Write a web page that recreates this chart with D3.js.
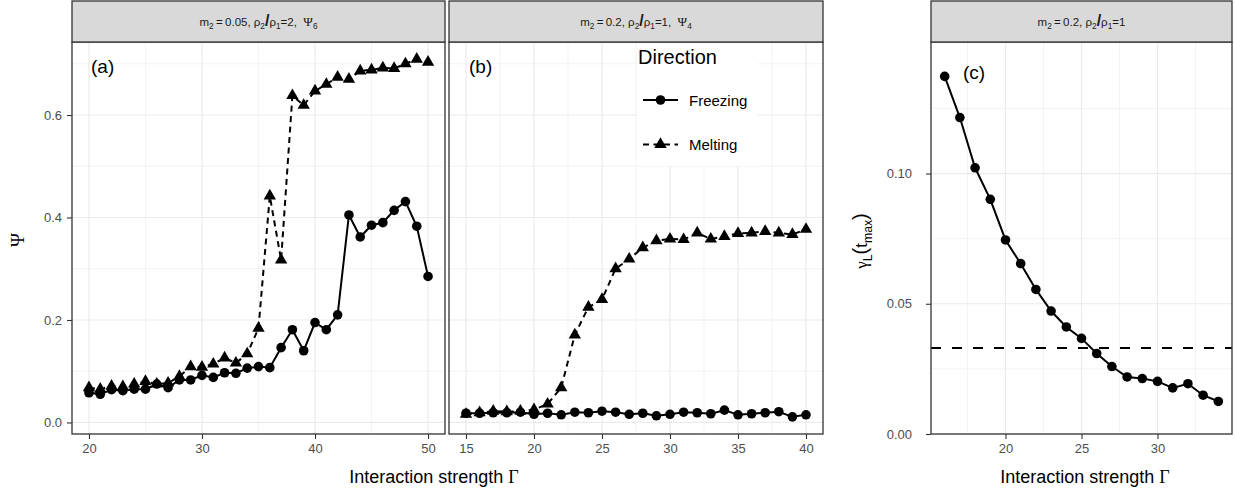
<!DOCTYPE html>
<html>
<head>
<meta charset="utf-8">
<script src="https://cdn.jsdelivr.net/npm/d3@7"></script>
<style>
  body { margin: 0; background: #ffffff; }
  svg { display: block; }
</style>
</head>
<body>
<svg id="chart" width="1235" height="495"></svg>
<script>
// ---- data -------------------------------------------------------------
// (a) m2 = 0.05, rho2/rho1 = 2, order parameter Psi_6
const gammaA = [20,21,22,23,24,25,26,27,28,29,30,31,32,33,34,35,36,37,38,39,40,41,42,43,44,45,46,47,48,49,50];
const freezingA = [0.058,0.055,0.064,0.062,0.065,0.065,0.075,0.068,0.083,0.083,0.092,0.088,0.097,0.096,0.106,0.109,0.107,0.146,0.181,0.140,0.195,0.181,0.210,0.405,0.362,0.385,0.390,0.414,0.431,0.383,0.285];
const meltingA  = [0.068,0.065,0.071,0.070,0.075,0.080,0.075,0.077,0.090,0.109,0.108,0.114,0.126,0.116,0.134,0.184,0.442,0.317,0.638,0.619,0.647,0.660,0.674,0.670,0.686,0.688,0.692,0.691,0.700,0.709,0.703];

// (b) m2 = 0.2, rho2/rho1 = 1, order parameter Psi_4
const gammaB = [15,16,17,18,19,20,21,22,23,24,25,26,27,28,29,30,31,32,33,34,35,36,37,38,39,40];
const freezingB = [0.018,0.018,0.019,0.019,0.020,0.016,0.018,0.015,0.020,0.019,0.022,0.020,0.016,0.018,0.013,0.016,0.020,0.019,0.017,0.024,0.015,0.017,0.019,0.021,0.011,0.015];
const meltingB  = [0.016,0.019,0.022,0.021,0.022,0.025,0.036,0.068,0.171,0.225,0.240,0.300,0.319,0.341,0.355,0.358,0.357,0.370,0.358,0.363,0.369,0.370,0.373,0.370,0.367,0.377];

// (c) m2 = 0.2, rho2/rho1 = 1, Lindemann parameter at t_max
const gammaC = [16,17,18,19,20,21,22,23,24,25,26,27,28,29,30,31,32,33,34];
const lindemannC = [0.1373,0.1215,0.1022,0.0901,0.0745,0.0654,0.0555,0.0472,0.0411,0.0367,0.0309,0.0259,0.0219,0.0213,0.0202,0.0177,0.0193,0.0149,0.0125];
const lindemannThreshold = 0.033;

// axis breaks
const ticksXA = [20, 30, 40, 50];
const ticksXB = [15, 20, 25, 30, 35, 40];
const ticksXC = [20, 25, 30];
const ticksYAB = [0.0, 0.2, 0.4, 0.6];
const ticksYC = [0.00, 0.05, 0.10];
const tickLabelsYAB = ["0.0", "0.2", "0.4", "0.6"];
const tickLabelsYC = ["0.00", "0.05", "0.10"];

const seriesNames = ["Freezing", "Melting"];

// ---- layout & style ---------------------------------------------------
const svg = d3.select("#chart");
const SANS = "'Liberation Sans', Arial, Helvetica, sans-serif";
const SERIF = "'Liberation Serif', 'Times New Roman', serif";
const FRAME = "#333333";
const GRID = "#EBEBEB";
const TICKTXT = "#4D4D4D";
const panelTop = 42, panelBottom = 434, stripTop = 1;
const meltDash = "6,4.5";

svg.append("rect").attr("width", 1235).attr("height", 495).attr("fill", "#ffffff");

// midpoints between consecutive major breaks (plus one step beyond each end)
function minorBreaks(major) {
  const step = major[1] - major[0];
  const out = [major[0] - step / 2];
  for (let i = 0; i < major.length; i++) out.push(major[i] + step / 2);
  return out;
}

// write a label made of runs, some of them subscripts / other fonts
function richText(sel, parts, baseSize) {
  let shift = 0;
  parts.forEach(p => {
    const ts = sel.append("tspan").text(p.t);
    const target = p.sub ? baseSize * 0.3 : 0;
    if (target !== shift) { ts.attr("dy", target - shift); shift = target; }
    ts.attr("font-size", p.size || (p.sub ? baseSize * 0.72 : baseSize));
    if (p.font) ts.attr("font-family", p.font);
    if (p.weight) ts.attr("font-weight", p.weight);
  });
  return sel;
}

function drawPanel(cfg) {
  const g = svg.append("g");
  const x = d3.scaleLinear().domain(cfg.xDomain).range([cfg.left, cfg.right]);
  const y = d3.scaleLinear().domain(cfg.yDomain).range([panelBottom, panelTop]);

  g.append("rect").attr("x", cfg.left).attr("y", panelTop)
    .attr("width", cfg.right - cfg.left).attr("height", panelBottom - panelTop)
    .attr("fill", "#ffffff");

  const inX = v => v > cfg.xDomain[0] && v < cfg.xDomain[1];
  const inY = v => v > cfg.yDomain[0] && v < cfg.yDomain[1];

  // minor grid
  g.selectAll(null).data(minorBreaks(cfg.xTicks).filter(inX)).join("line")
    .attr("x1", d => x(d)).attr("x2", d => x(d))
    .attr("y1", panelTop).attr("y2", panelBottom)
    .attr("stroke", GRID).attr("stroke-width", 0.6);
  g.selectAll(null).data(minorBreaks(cfg.yTicks).filter(inY)).join("line")
    .attr("y1", d => y(d)).attr("y2", d => y(d))
    .attr("x1", cfg.left).attr("x2", cfg.right)
    .attr("stroke", GRID).attr("stroke-width", 0.6);
  // major grid
  g.selectAll(null).data(cfg.xTicks).join("line")
    .attr("x1", d => x(d)).attr("x2", d => x(d))
    .attr("y1", panelTop).attr("y2", panelBottom)
    .attr("stroke", GRID).attr("stroke-width", 1.2);
  g.selectAll(null).data(cfg.yTicks).join("line")
    .attr("y1", d => y(d)).attr("y2", d => y(d))
    .attr("x1", cfg.left).attr("x2", cfg.right)
    .attr("stroke", GRID).attr("stroke-width", 1.2);

  // bottom axis
  const xAxis = d3.axisBottom(x).tickValues(cfg.xTicks).tickSize(5).tickPadding(5)
    .tickFormat(d3.format("d"));
  const xa = g.append("g").attr("transform", `translate(0,${panelBottom})`).call(xAxis);
  xa.select(".domain").remove();
  xa.selectAll(".tick line").attr("stroke", FRAME).attr("stroke-width", 1.1);
  xa.selectAll(".tick text").attr("fill", TICKTXT).attr("font-family", SANS).attr("font-size", 13);

  // left axis
  if (cfg.yLabels) {
    const yAxis = d3.axisLeft(y).tickValues(cfg.yTicks).tickSize(5)
      .tickPadding(cfg.yPad).tickFormat((d, i) => cfg.yLabels[i]);
    const ya = g.append("g").attr("transform", `translate(${cfg.left},0)`).call(yAxis);
    ya.select(".domain").remove();
    ya.selectAll(".tick line").attr("stroke", FRAME).attr("stroke-width", 1.1);
    ya.selectAll(".tick text").attr("fill", TICKTXT).attr("font-family", SANS).attr("font-size", 13);
  }

  const clipId = "clip" + cfg.key;
  svg.append("clipPath").attr("id", clipId).append("rect")
    .attr("x", cfg.left).attr("y", panelTop)
    .attr("width", cfg.right - cfg.left).attr("height", panelBottom - panelTop);
  const data = g.append("g").attr("clip-path", `url(#${clipId})`);

  return { g, x, y, data };
}

function drawSeries(p, xs, ys, kind) {
  const pts = xs.map((v, i) => [v, ys[i]]);
  const line = d3.line().x(d => p.x(d[0])).y(d => p.y(d[1]));
  p.data.append("path").attr("d", line(pts)).attr("fill", "none")
    .attr("stroke", "#000").attr("stroke-width", 2)
    .attr("stroke-dasharray", kind === "Melting" ? meltDash : null);
  if (kind === "Melting") {
    p.data.selectAll(null).data(pts).join("path")
      .attr("d", d3.symbol(d3.symbolTriangle, 66)())
      .attr("transform", d => `translate(${p.x(d[0])},${p.y(d[1])})`)
      .attr("fill", "#000");
  } else {
    p.data.selectAll(null).data(pts).join("circle")
      .attr("cx", d => p.x(d[0])).attr("cy", d => p.y(d[1])).attr("r", 4.8)
      .attr("fill", "#000");
  }
}

function drawFrame(cfg) {
  svg.append("rect").attr("x", cfg.left).attr("y", panelTop)
    .attr("width", cfg.right - cfg.left).attr("height", panelBottom - panelTop)
    .attr("fill", "none").attr("stroke", FRAME).attr("stroke-width", 1.3);
  svg.append("rect").attr("x", cfg.left).attr("y", stripTop)
    .attr("width", cfg.right - cfg.left).attr("height", panelTop - stripTop)
    .attr("fill", "#D9D9D9").attr("stroke", FRAME).attr("stroke-width", 1.3);
  const t = svg.append("text").attr("x", (cfg.left + cfg.right) / 2).attr("y", 26)
    .attr("text-anchor", "middle").attr("font-family", SANS).attr("fill", "#1A1A1A");
  richText(t, cfg.strip, 11.5);
}

function panelTag(x, y, label) {
  svg.append("text").attr("x", x).attr("y", y).attr("font-family", SANS)
    .attr("font-size", 19).attr("fill", "#000").text(label);
}

// ---- panel (a) ----------------------------------------------------------
const cfgA = {
  key: "A", left: 72, right: 445, xDomain: [18.5, 51.5], yDomain: [-0.0225, 0.7425],
  xTicks: ticksXA, yTicks: ticksYAB, yLabels: tickLabelsYAB, yPad: 5,
  strip: [
    { t: "m" }, { t: "2", sub: true }, { t: "\u2009=\u20090.05, \u03C1" }, { t: "2", sub: true },
    { t: "/", size: 16, weight: "bold" }, { t: "\u03C1" }, { t: "1", sub: true },
    { t: "=2,\u00A0\u00A0" }, { t: "\u03A8", font: SERIF, size: 13 }, { t: "6", sub: true }
  ]
};
const pA = drawPanel(cfgA);
drawSeries(pA, gammaA, freezingA, "Freezing");
drawSeries(pA, gammaA, meltingA, "Melting");

// ---- panel (b) ----------------------------------------------------------
const cfgB = {
  key: "B", left: 449, right: 823, xDomain: [13.75, 41.25], yDomain: [-0.0225, 0.7425],
  xTicks: ticksXB, yTicks: ticksYAB, yLabels: null,
  strip: [
    { t: "m" }, { t: "2", sub: true }, { t: "\u2009=\u20090.2, \u03C1" }, { t: "2", sub: true },
    { t: "/", size: 16, weight: "bold" }, { t: "\u03C1" }, { t: "1", sub: true },
    { t: "=1,\u00A0\u00A0" }, { t: "\u03A8", font: SERIF, size: 13 }, { t: "4", sub: true }
  ]
};
const pB = drawPanel(cfgB);
drawSeries(pB, gammaB, freezingB, "Freezing");
drawSeries(pB, gammaB, meltingB, "Melting");

// ---- panel (c) ----------------------------------------------------------
const cfgC = {
  key: "C", left: 931, right: 1232, xDomain: [15.1, 34.9], yDomain: [0, 0.1505],
  xTicks: ticksXC, yTicks: ticksYC, yLabels: tickLabelsYC, yPad: 14,
  strip: [
    { t: "m" }, { t: "2", sub: true }, { t: "\u2009=\u20090.2, \u03C1" }, { t: "2", sub: true },
    { t: "/", size: 16, weight: "bold" }, { t: "\u03C1" }, { t: "1", sub: true }, { t: "=1" }
  ]
};
const pC = drawPanel(cfgC);
pC.data.append("line")
  .attr("x1", cfgC.left).attr("x2", cfgC.right)
  .attr("y1", pC.y(lindemannThreshold)).attr("y2", pC.y(lindemannThreshold))
  .attr("stroke", "#000").attr("stroke-width", 2).attr("stroke-dasharray", "10,11");
drawSeries(pC, gammaC, lindemannC, "Freezing");

// ---- legend inside panel (b) -------------------------------------------
const leg = svg.append("g");
leg.append("rect").attr("x", 637).attr("y", 43).attr("width", 121).attr("height", 123).attr("fill", "#ffffff");
leg.append("text").attr("x", 638).attr("y", 64).attr("font-family", SANS).attr("font-size", 20)
  .attr("fill", "#000").text("Direction");
seriesNames.forEach((name, i) => {
  const cy = 100 + i * 44.5;
  leg.append("line").attr("x1", 643).attr("x2", 678).attr("y1", cy).attr("y2", cy)
    .attr("stroke", "#000").attr("stroke-width", 2)
    .attr("stroke-dasharray", name === "Melting" ? meltDash : null);
  if (name === "Melting") {
    leg.append("path").attr("d", d3.symbol(d3.symbolTriangle, 66)())
      .attr("transform", `translate(660.5,${cy})`).attr("fill", "#000");
  } else {
    leg.append("circle").attr("cx", 660.5).attr("cy", cy).attr("r", 4.8).attr("fill", "#000");
  }
  leg.append("text").attr("x", 689).attr("y", cy + 5.5).attr("font-family", SANS)
    .attr("font-size", 15).attr("fill", "#000").text(name);
});

// ---- frames, strips and panel tags -------------------------------------
[cfgA, cfgB, cfgC].forEach(drawFrame);
panelTag(91, 73, "(a)");
panelTag(469, 73, "(b)");
panelTag(963, 79, "(c)");

// ---- axis titles ---------------------------------------------------------
const xTitleA = svg.append("text").attr("x", 434).attr("y", 483).attr("text-anchor", "middle")
  .attr("font-family", SANS).attr("fill", "#000");
richText(xTitleA, [{ t: "Interaction strength " }, { t: "\u0393", font: SERIF, size: 18 }], 18);

const xTitleC = svg.append("text").attr("x", 1085).attr("y", 483).attr("text-anchor", "middle")
  .attr("font-family", SANS).attr("fill", "#000");
richText(xTitleC, [{ t: "Interaction strength " }, { t: "\u0393", font: SERIF, size: 18 }], 18);

svg.append("text").attr("transform", "translate(24,240) rotate(-90)").attr("text-anchor", "middle")
  .attr("font-family", SERIF).attr("font-size", 19).attr("fill", "#000").text("\u03A8");

const yTitleC = svg.append("text").attr("transform", "translate(867,241) rotate(-90)")
  .attr("text-anchor", "middle").attr("font-family", SANS).attr("fill", "#000");
richText(yTitleC, [
  { t: "\u03B3", font: SERIF }, { t: "L", sub: true }, { t: "(", size: 20 },
  { t: "t" }, { t: "max", sub: true }, { t: ")", size: 20 }
], 17);
</script>
</body>
</html>
